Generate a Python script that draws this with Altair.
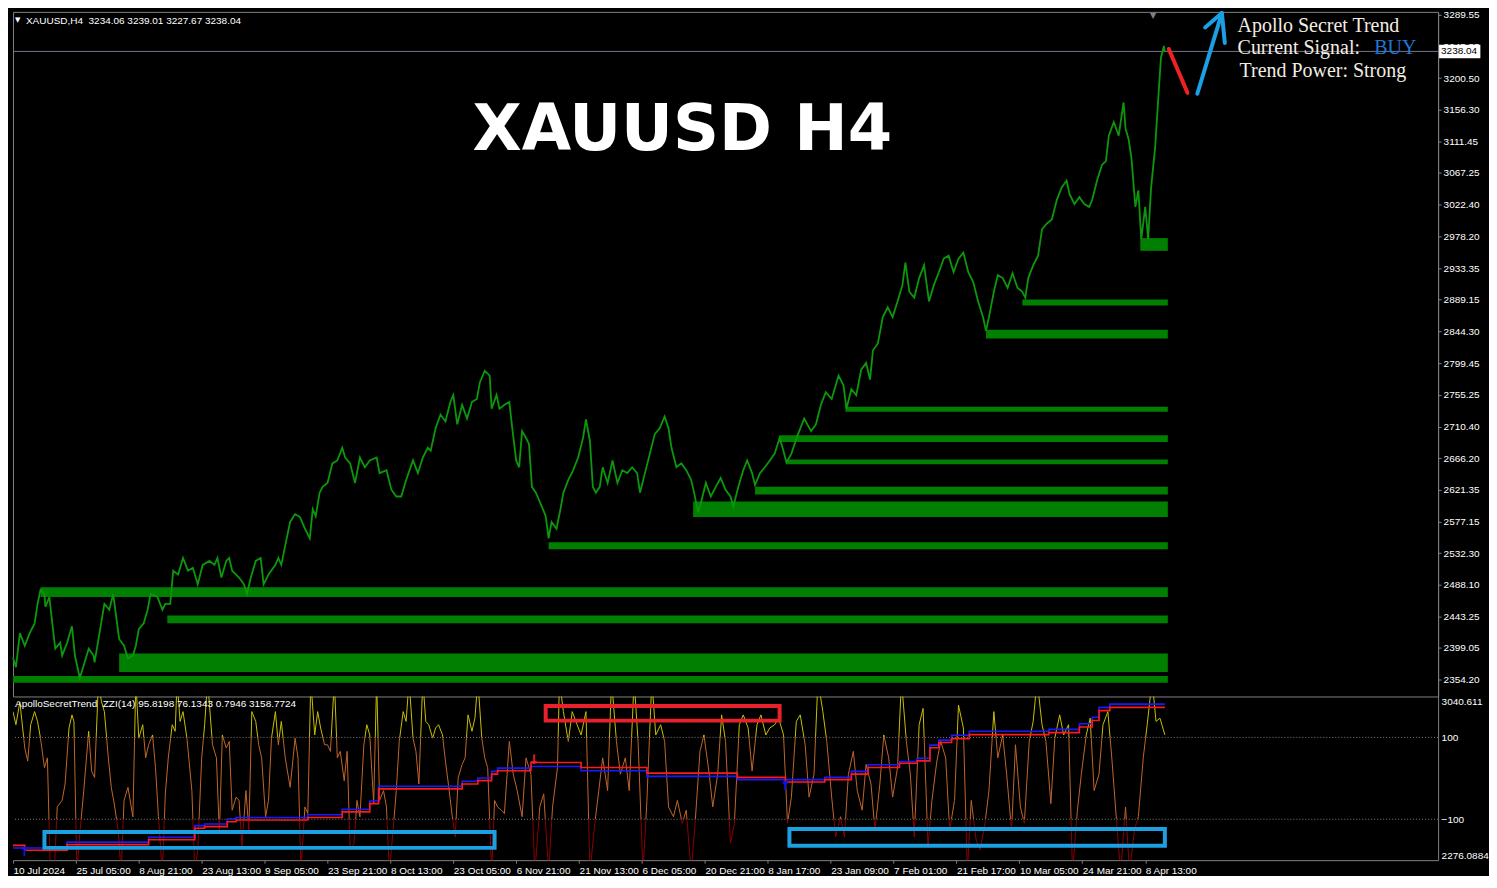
import json
import altair as alt
import pandas as pd

# ---------------- values ----------------
PRICE_BAR = [0,3,7,12,17,22,25,28,32,33,37,40,43,48,50,55,60,63,68,72,77,82,83,88,93,98,102,105,108,113,
             117,122,125,128,133,137,140,147,152,155,160,163,168,173,178,183,188,193,200,205,208,212,217,220,223,
             230,235,238,242,247,252,255,260,267,270,273,277,282,287,292,297,302,305,308,312,315,320,325,330,335,
             338,343,348,353,358,363,370,373,380,385,390,395,400,
             407,412,417,422,425,430,435,440,445,448,452,457,462,467,472,475,480,485,487,492,495,500,505,508,512,
             515,518,522,525,528,532,535,538,542,545,548,553,557,560,565,570,575,580,583,587,590,593,597,600,605,
             610,615,620,625,630,635,638,643,648,653,658,663,667,670,675,680,685,690,693,697,700,705,710,715,720,
             725,730,733,738,743,747,752,755,760,765,770,775,780,783,787,792,798,
             805,812,817,822,827,833,840,845,848,853,858,863,868,872,875,880,885,890,895,900,905,908,912,917,922,
             927,932,937,942,947,952,957,962,967,972,977,982,987,990,993,998,1002,1007,1012,1017,1022,1027,1030,
             1033,1038,1043,1047,1052,1057,1062,1067,1072,1075,1080,1085,1090,1095,1098,1103,1108,1112,1115,1120,
             1125,1130,1132,1135,1138,1142,1145,1148,1152,1155,1158,1162,1165,1168,1171,1172]
PRICE = [2385.8,2372.0,2420.0,2402.2,2420.0,2433.7,2461.2,2480.4,2474.9,2457.0,
         2470.8,2433.7,2398.1,2406.3,2388.5,2406.3,2429.6,2388.5,2356.9,2374.8,
         2398.1,2388.5,2378.9,2420.0,2461.2,2452.9,2474.9,2443.3,2411.8,2402.2,
         2384.4,2388.5,2402.2,2425.5,2433.7,2452.9,2474.9,2470.8,2452.9,2461.2,
         2461.2,2507.8,2502.3,2525.6,2507.8,2511.9,2488.6,2516.0,2521.5,2516.0,
         2525.6,2498.2,2521.5,2525.6,2507.8,2498.2,2488.6,2474.9,2498.2,2521.5,
         2525.6,2488.6,2502.3,2516.0,2525.6,2516.0,2543.4,2576.4,2587.3,2583.2,
         2566.8,2553.1,2594.2,2584.6,2617.5,2625.7,2631.2,2658.7,2662.8,2680.6,
         2666.9,2658.7,2631.2,2666.9,2653.2,2662.8,2666.9,2645.0,2649.1,2621.7,
         2612.1,2612.1,2635.4,
         2662.8,2645.0,2666.9,2680.6,2676.5,2708.1,2727.3,2717.7,2745.1,2754.7,
         2713.6,2741.0,2721.8,2745.1,2749.2,2772.5,2789.0,2782.1,2735.5,2754.7,
         2735.5,2741.0,2745.1,2708.1,2662.8,2653.2,2704.0,2694.4,2686.1,2625.7,
         2617.5,2607.9,2598.3,2584.6,2553.1,2576.4,2566.8,2594.2,2617.5,2635.4,
         2649.1,2666.9,2694.4,2720.4,2690.2,2625.7,2617.5,2625.7,2653.2,2631.2,
         2662.8,2631.2,2649.1,2645.0,2653.2,2645.0,2617.5,2645.0,2672.4,2699.8,
         2708.1,2724.5,2708.1,2680.6,2653.2,2658.7,2649.1,2635.4,2617.5,2590.1,
         2603.8,2631.2,2612.1,2625.7,2638.1,2621.7,2612.1,2598.3,2625.7,2649.1,
         2662.8,2645.0,2628.5,2645.0,2653.2,2662.8,2672.4,2694.4,2680.6,2660.1,
         2672.4,2697.1,
         2721.8,2704.0,2713.6,2741.0,2758.8,2749.2,2782.1,2768.4,2735.5,2762.9,
         2754.7,2790.4,2800.0,2776.6,2817.8,2827.4,2864.4,2878.1,2864.4,2886.4,
         2909.7,2941.2,2900.1,2891.9,2919.3,2937.1,2886.4,2909.7,2927.5,2946.7,
         2950.8,2927.5,2946.7,2954.9,2927.5,2913.8,2886.4,2864.4,2845.2,2864.4,
         2900.1,2923.4,2919.3,2905.6,2926.1,2905.6,2900.1,2891.9,2919.3,2937.1,
         2950.8,2987.9,2996.1,3001.6,3029.0,3046.8,3056.4,3037.2,3023.5,3033.1,
         3023.5,3019.4,3029.0,3056.4,3078.4,3083.9,3119.5,3138.7,3119.5,3166.2,
         3129.1,3115.4,3088.0,3019.4,3042.7,2974.1,3019.4,2974.1,3046.8,3101.7,
         3166.2,3229.2,3245.7,3238.04]

ZONE_X0 = [1147, 1027, 990, 847, 780, 787, 755, 692, 545, 28, 157, 108, 0]
ZONE_TOP = [2975.5, 2889.1, 2846.6, 2738.2, 2698.4, 2664.1, 2625.7, 2605.2, 2547.6, 2484.5, 2444.7, 2391.2, 2359.7]
ZONE_BOT = [2957.6, 2880.8, 2834.2, 2731.3, 2688.8, 2657.3, 2614.8, 2583.2, 2538.0, 2470.8, 2433.7, 2365.2, 2350.1]
ZONE_END = 1175

PRICE_TICKS = [3289.55, 3245.35, 3200.50, 3156.30, 3111.45, 3067.25, 3022.40, 2978.20, 2933.35, 2889.15,
               2844.30, 2799.45, 2755.25, 2710.40, 2666.20, 2621.35, 2577.15, 2532.30, 2488.10, 2443.25,
               2399.05, 2354.20]
X_TICKS = [0, 64, 128, 192, 256, 320, 384, 448, 512, 576, 640, 704, 768, 832, 896, 960, 1024, 1088, 1152]
X_LABELS = ["10 Jul 2024", "25 Jul 05:00", "8 Aug 21:00", "23 Aug 13:00", "9 Sep 05:00", "23 Sep 21:00",
            "8 Oct 13:00", "23 Oct 05:00", "6 Nov 21:00", "21 Nov 13:00", "6 Dec 05:00", "20 Dec 21:00",
            "8 Jan 17:00", "23 Jan 09:00", "7 Feb 01:00", "21 Feb 17:00", "10 Mar 05:00", "24 Mar 21:00",
            "8 Apr 13:00"]

OSC_X = [0,3,7,12,15,18,22,25,28,32, 35,38,42,45,50,53,57,60,62,65, 68,72,77,80,83,87,90,93,97,100,
         103,107,110,113,117,122,125,128,132,135, 138,142,145,148,152,155,158,162,165,167,
         170,173,177,182,185,188,192,195,198,203, 207,210,213,217,220,223,227,230,233,237,
         240,243,247,250,253,257,260,263,267,270, 273,277,282,287,290,293,297,300,303,307,
         310,313,317,320,323,327,330,333,337,340, 343,347,350,353,357,360,363,367,370,373,
         377,380,383,387,390,393,397,400,403,407, 410,413,417,420,423,427,430,433,437,440,
         443,447,450,453,457,460,463,467,470,473, 477,480,483,487,490,493,497,500,
         505,509,513,518,522,527,531,536,540,545, 549,554,556,560,565,569,574,578,583,587,
         592,596,600,605,609,614,618,623,627,632, 636,641,645,650,654,659,663,667,672,676,
         681,685,690,694,699,703,708,712,717,721, 725,730,734,739,743,748,752,757,761,766,
         770,775,779,784,788,792,797,801,806,810, 815,819,824,828,833,837,842,846,850,855,
         859,864,868,873,877,882,886,891,895,900, 904,909,913,917,922,926,931,935,940,944,
         949,953,958,962,967,971,975,980,984,989, 993,998,1002,1007,1011,1016,1020,1025,1029,1034,
         1038,1042,1047,1051,1056,1060,1065,1069,1074,1078, 1083,1087,1092,1096,1100,1105,1109,1114,1118,1123,
         1127,1132,1136,1141,1145,1150,1154,1159,1163,1167, 1172]
OSC_V = [163,131,187,74,42,131,163,139,98,26, 50,-230,-230,-70,-54,-14,123,155,139,-230,
         -135,-30,115,18,2,240,187,163,50,-22, -62,-127,-230,-54,-22,-94,240,98,131,50,
         82,106,26,-94,-230,-38,50,131,115,240, 139,163,98,-30,-230,-175,50,131,240,82,
         50,-135,106,74,90,-78,-46,-54,-167,-30, -127,163,139,82,50,-94,-54,98,163,82,
         139,50,-22,98,50,-230,-70,-86,240,106, 163,123,82,82,66,240,50,66,-6,66,
         -175,-159,-54,-94,82,131,106,-62,240,-54, -30,-70,-230,-119,-30,90,163,139,240,98,
         66,-14,240,139,131,98,123,131,106,42, -14,-94,-143,2,34,50,155,115,147,240,
         98,50,26,-230,-54,-70,-78,-86,
         90,10,-30,-94,50,10,-230,-70,-38,-230, -70,26,240,163,90,163,131,106,163,-230,
         -110,-30,50,-30,240,90,10,50,-30,240, 90,-230,-54,240,106,131,90,-70,-94,-54,
         -110,-78,-230,-110,66,106,18,-70,10,155, 90,-159,-110,131,155,123,18,131,155,106,
         123,131,147,106,-110,-46,139,155,82,-46, 10,240,163,90,-46,-143,-94,-143,10,66,
         -30,-78,34,-14,-127,-14,106,50,-46,26, 240,90,10,-143,131,171,-167,-54,42,90,
         50,-127,-54,179,123,-230,-54,-151,-175,-110, -30,163,50,106,10,-127,82,-70,-110,90,
         139,240,131,90,-62,98,155,106,131,-230, -78,10,106,147,-30,10,131,163,50,-110,
         -230,-70,-230,-127,-94,50,131,240,139,147, 106]

BLUE_X = [0, 55, 138, 185, 195, 218, 227, 300, 335, 363, 372, 457, 473, 487, 493, 527, 578, 645, 737, 826,
          853, 870, 902, 920, 933, 942, 955, 973, 1054, 1085, 1098, 1105, 1116, 1172]
BLUE_V = [2332.7, 2360.4, 2383.4, 2437.3, 2445.1, 2468.1, 2475.5, 2487.9, 2514.2, 2552.4, 2621.5, 2644.5,
          2659.7, 2690.6, 2705.8, 2713.6, 2693.8, 2667.5, 2652.3, 2662.9, 2690.6, 2721.4, 2736.6, 2751.8,
          2813.5, 2836.6, 2859.6, 2878.0, 2887.2, 2913.0, 2943.9, 2989.9, 3005.1, 3005.1]
RED_X = [0, 12, 55, 138, 185, 195, 218, 227, 300, 335, 363, 372, 457, 473, 487, 493, 527, 578, 645, 737,
         786, 826, 853, 870, 902, 920, 933, 942, 955, 973, 1054, 1085, 1098, 1105, 1116, 1172]
RED_V = [2345.2, 2322.1, 2348.4, 2371.4, 2424.8, 2432.7, 2455.7, 2463.5, 2475.5, 2501.7, 2540.0, 2609.1,
         2632.1, 2647.7, 2678.1, 2693.8, 2732.0, 2709.0, 2682.7, 2662.9, 2641.3, 2652.3, 2678.1, 2709.0,
         2728.8, 2739.9, 2801.1, 2825.5, 2843.9, 2862.4, 2871.6, 2897.8, 2928.7, 2974.7, 2989.9, 2989.9]

SIG_X = [12, 530, 786]
SIG_S = [2312.9, 2745.8, 2621.5]
SIG_T = ["\u2191", "\u2193", "\u2191"]
SIG_C = ["#1414ff", "#ff2020", "#1414ff"]

BOX_X0 = [542, 32, 790]
BOX_X1 = [780, 490, 1172]
BOX_V0 = [177, -131, -124]
BOX_V1 = [141, -170, -165]
BOX_C = ["#e8212b", "#1ba0e2", "#1ba0e2"]

SEG_X = [1176, 1205, 1230, 1230]
SEG_Y = [3241.5, 3178.5, 3292.0, 3292.0]
SEG_X2 = [1195, 1230, 1213, 1233]
SEG_Y2 = [3179.8, 3292.0, 3271.7, 3249.8]
SEG_C = ["#ee2222", "#1ba0e6", "#1ba0e6", "#1ba0e6"]

INFO_X = [1246, 1246, 1385, 1248]
INFO_Y = [3265.3, 3234.3, 3234.3, 3202.2]
INFO_T = ["Apollo Secret Trend", "Current Signal:", "BUY", "Trend Power: Strong"]
INFO_C = ["#f2ede2", "#f2ede2", "#1e78d6", "#f2ede2"]

LAST = 3238.04
HEADER = "XAUUSD,H4\u00a0\u00a03234.06 3239.01 3227.67 3238.04"
SUB_HEADER = "ApolloSecretTrend\u00a0\u00a0ZZI(14) 95.8198 76.1343 0.7946 3158.7724"
TITLE = "XAUUSD H4"
TITLE_X, TITLE_Y = 681, 3098.9

# ---------------- layout / style ----------------
W = 1428
TOP_H = 686
X_DOM = [0, 1450]
P_DOM = [2330.87, 3293.66]
OSC_DOM = [-200, 200]
STEP_DOM = [2276.0884, 3040.611]
LOW_H = 164
PX_PER = LOW_H / (OSC_DOM[1] - OSC_DOM[0])
GRAY = "#808080"
FONT = "Liberation Sans"
ZONE_GREEN = "#007f00"
LINE_GREEN = "#0c980c"

XSC = alt.Scale(domain=X_DOM, nice=False, zero=False)
PSC = alt.Scale(domain=P_DOM, nice=False, zero=False)

TOP_AXIS = alt.Axis(orient="right", values=PRICE_TICKS, format=".2f", labelColor="#ffffff", labelFont=FONT,
                    labelFontSize=10, tickColor=GRAY, tickSize=3, domainColor=GRAY, labelPadding=2,
                    grid=False, title=None, labelOverlap=False)


def step_at(v):
    return STEP_DOM[0] + (v - OSC_DOM[0]) / (OSC_DOM[1] - OSC_DOM[0]) * (STEP_DOM[1] - STEP_DOM[0])


def xq(field, axis=None):
    return alt.X(f"{field}:Q", scale=XSC, axis=axis)


def py(field):
    return alt.Y(f"{field}:Q", scale=PSC, axis=TOP_AXIS)


# ---------------- top (price) panel ----------------
price_df = pd.DataFrame({"bar": PRICE_BAR, "price": PRICE})
zone_df = pd.DataFrame({"x0": ZONE_X0, "x1": [ZONE_END] * len(ZONE_X0), "top": ZONE_TOP, "bot": ZONE_BOT})
seg_df = pd.DataFrame({"x": SEG_X, "y": SEG_Y, "x2": SEG_X2, "y2": SEG_Y2, "c": SEG_C})
info_df = pd.DataFrame({"x": INFO_X, "y": INFO_Y, "t": INFO_T, "c": INFO_C})

zones = alt.Chart(zone_df).mark_rect(color=ZONE_GREEN).encode(
    x=xq("x0"), x2=alt.X2("x1"), y=py("top"), y2=alt.Y2("bot"))
last_line = alt.Chart(pd.DataFrame({"p": [LAST]})).mark_rule(color="#74748a", strokeWidth=1).encode(y=py("p"))
price_line = alt.Chart(price_df).mark_line(color=LINE_GREEN, strokeWidth=1.8).encode(x=xq("bar"), y=py("price"))
title = alt.Chart(pd.DataFrame({"x": [TITLE_X], "y": [TITLE_Y], "t": [TITLE]})).mark_text(
    font="DejaVu Sans", fontWeight="bold", fontSize=64, color="#ffffff", align="center",
    baseline="alphabetic").encode(x=xq("x"), y=py("y"), text="t:N")
segs = alt.Chart(seg_df).mark_rule(strokeWidth=4, strokeCap="round").encode(
    x=xq("x"), y=py("y"), x2=alt.X2("x2"), y2=alt.Y2("y2"), color=alt.Color("c:N", scale=None))
info = alt.Chart(info_df).mark_text(font="Liberation Serif", fontSize=20, align="left",
                                    baseline="alphabetic").encode(
    x=xq("x"), y=py("y"), text="t:N", color=alt.Color("c:N", scale=None))
header = alt.Chart(pd.DataFrame({"t": [HEADER]})).mark_text(
    font=FONT, fontSize=10, color="#ffffff", align="left", baseline="middle").encode(
    x=alt.value(13), y=alt.value(9), text="t:N")
header_tri = alt.Chart(pd.DataFrame({"t": ["\u25bc"]})).mark_text(
    font="DejaVu Sans", fontSize=7, color="#ffffff", align="left", baseline="middle").encode(
    x=alt.value(2), y=alt.value(8), text="t:N")
shift_tri = alt.Chart(pd.DataFrame({"x": [1160], "t": ["\u25bc"]})).mark_text(
    font="DejaVu Sans", fontSize=8, color=GRAY, align="center", baseline="top").encode(
    x=xq("x"), y=alt.value(0), text="t:N")
pbox = alt.Chart(pd.DataFrame({"x": [1451], "x2": [1493], "y": [LAST + 9.5], "y2": [LAST - 9.5]})).mark_rect(
    color="#ffffff").encode(x=xq("x"), x2=alt.X2("x2"), y=py("y"), y2=alt.Y2("y2"))
ptext = alt.Chart(pd.DataFrame({"x": [1453], "y": [LAST], "t": [f"{LAST:.2f}"]})).mark_text(
    font=FONT, fontSize=10, color="#000000", align="left", baseline="middle").encode(
    x=xq("x"), y=py("y"), text="t:N")

top = alt.layer(zones, last_line, price_line, title, segs, info, header, header_tri, shift_tri,
                pbox, ptext).properties(width=W, height=TOP_H)

# ---------------- lower (indicator) panel, split into three colour bands ----------------
osc_df = pd.DataFrame({"x": OSC_X, "v": OSC_V})
step_df = pd.concat([pd.DataFrame({"x": BLUE_X, "s": BLUE_V, "series": "blue"}),
                     pd.DataFrame({"x": RED_X, "s": RED_V, "series": "red"})], ignore_index=True)
sig_df = pd.DataFrame({"x": SIG_X, "s": SIG_S, "t": SIG_T, "c": SIG_C})
box_df = pd.DataFrame({"x0": BOX_X0, "x1": BOX_X1, "v0": BOX_V0, "v1": BOX_V1, "c": BOX_C})

AX_BASE = dict(orient="right", ticks=False, domainColor=GRAY, labelColor="#ffffff", labelFont=FONT,
               labelFontSize=10, labelPadding=3, grid=False, title=None, labelOverlap=False)

X_AXIS = alt.Axis(values=X_TICKS, labelExpr=f"{json.dumps(X_LABELS)}[indexof({json.dumps(X_TICKS)}, datum.value)]",
                  labelAlign="left", labelColor="#ffffff", labelFont=FONT, labelFontSize=10, tickColor=GRAY,
                  tickSize=3, domainColor=GRAY, labelPadding=2, grid=False, title=None, labelOverlap=False,
                  labelFlush=False)


def band(lo, hi, color, osc_axis=None, step_axis=None, xaxis=None, extras=()):
    s_lo, s_hi = step_at(lo), step_at(hi)
    osc_sc = alt.Scale(domain=[lo, hi], nice=False, zero=False)
    stp_sc = alt.Scale(domain=[s_lo, s_hi], nice=False, zero=False)
    layers = [
        alt.Chart(osc_df).mark_line(color=color, strokeWidth=1, clip=True).encode(
            x=xq("x", xaxis), y=alt.Y("v:Q", scale=osc_sc, axis=osc_axis)),
        alt.Chart(step_df).mark_line(interpolate="step-after", strokeWidth=1.6, clip=True).encode(
            x=xq("x", xaxis), y=alt.Y("s:Q", scale=stp_sc, axis=step_axis),
            color=alt.Color("series:N", scale=alt.Scale(domain=["blue", "red"], range=["#1a1aff", "#ff1a1a"]),
                            legend=None)),
    ]
    sig = sig_df[(sig_df.s >= s_lo) & (sig_df.s < s_hi)]
    if len(sig):
        layers.append(alt.Chart(sig).mark_text(font="DejaVu Sans", fontSize=13, fontWeight="bold",
                                               baseline="middle").encode(
            x=xq("x", xaxis), y=alt.Y("s:Q", scale=stp_sc, axis=None), text="t:N",
            color=alt.Color("c:N", scale=None)))
    bx = box_df[(box_df.v0 <= hi) & (box_df.v0 >= lo)]
    if len(bx):
        layers.append(alt.Chart(bx).mark_rect(fillOpacity=0, strokeWidth=4).encode(
            x=xq("x0", xaxis), x2=alt.X2("x1"), y=alt.Y("v0:Q", scale=osc_sc, axis=None), y2=alt.Y2("v1"),
            stroke=alt.Stroke("c:N", scale=None)))
    for e in extras:
        layers.append(e(osc_sc))
    return alt.layer(*layers).resolve_scale(y="independent").properties(
        width=W, height=(hi - lo) * PX_PER, view=alt.ViewBackground(strokeOpacity=0))


def sub_header(_):
    return alt.Chart(pd.DataFrame({"t": [SUB_HEADER]})).mark_text(
        font=FONT, fontSize=10, color="#ffffff", align="left", baseline="middle").encode(
        x=alt.value(2), y=alt.value(8), text="t:N")


def levels(sc):
    return alt.Chart(pd.DataFrame({"v": [100, -100]})).mark_rule(color=GRAY, strokeDash=[1, 2]).encode(
        y=alt.Y("v:Q", scale=sc, axis=None))


b_up = band(100, 200, "#c8bf00",
            step_axis=alt.Axis(values=[STEP_DOM[1]], format=".3f", labelBaseline="top", **AX_BASE),
            extras=[sub_header])
b_mid = band(-100, 100, "#c0652a",
             osc_axis=alt.Axis(values=[100, -100], format="d", **AX_BASE),
             extras=[levels])
b_low = band(-200, -100, "#8c0000",
             step_axis=alt.Axis(values=[STEP_DOM[0]], format=".4f", labelBaseline="bottom", **AX_BASE),
             xaxis=X_AXIS)

chart = alt.vconcat(top, b_up, b_mid, b_low, spacing=0, bounds="flush").properties(
    background="#000000", padding=0).configure(padding=0, background="#000000").configure_view(
    stroke=GRAY, strokeWidth=1)

chart.save("out.html", embed_options={"renderer": "svg", "actions": False})
